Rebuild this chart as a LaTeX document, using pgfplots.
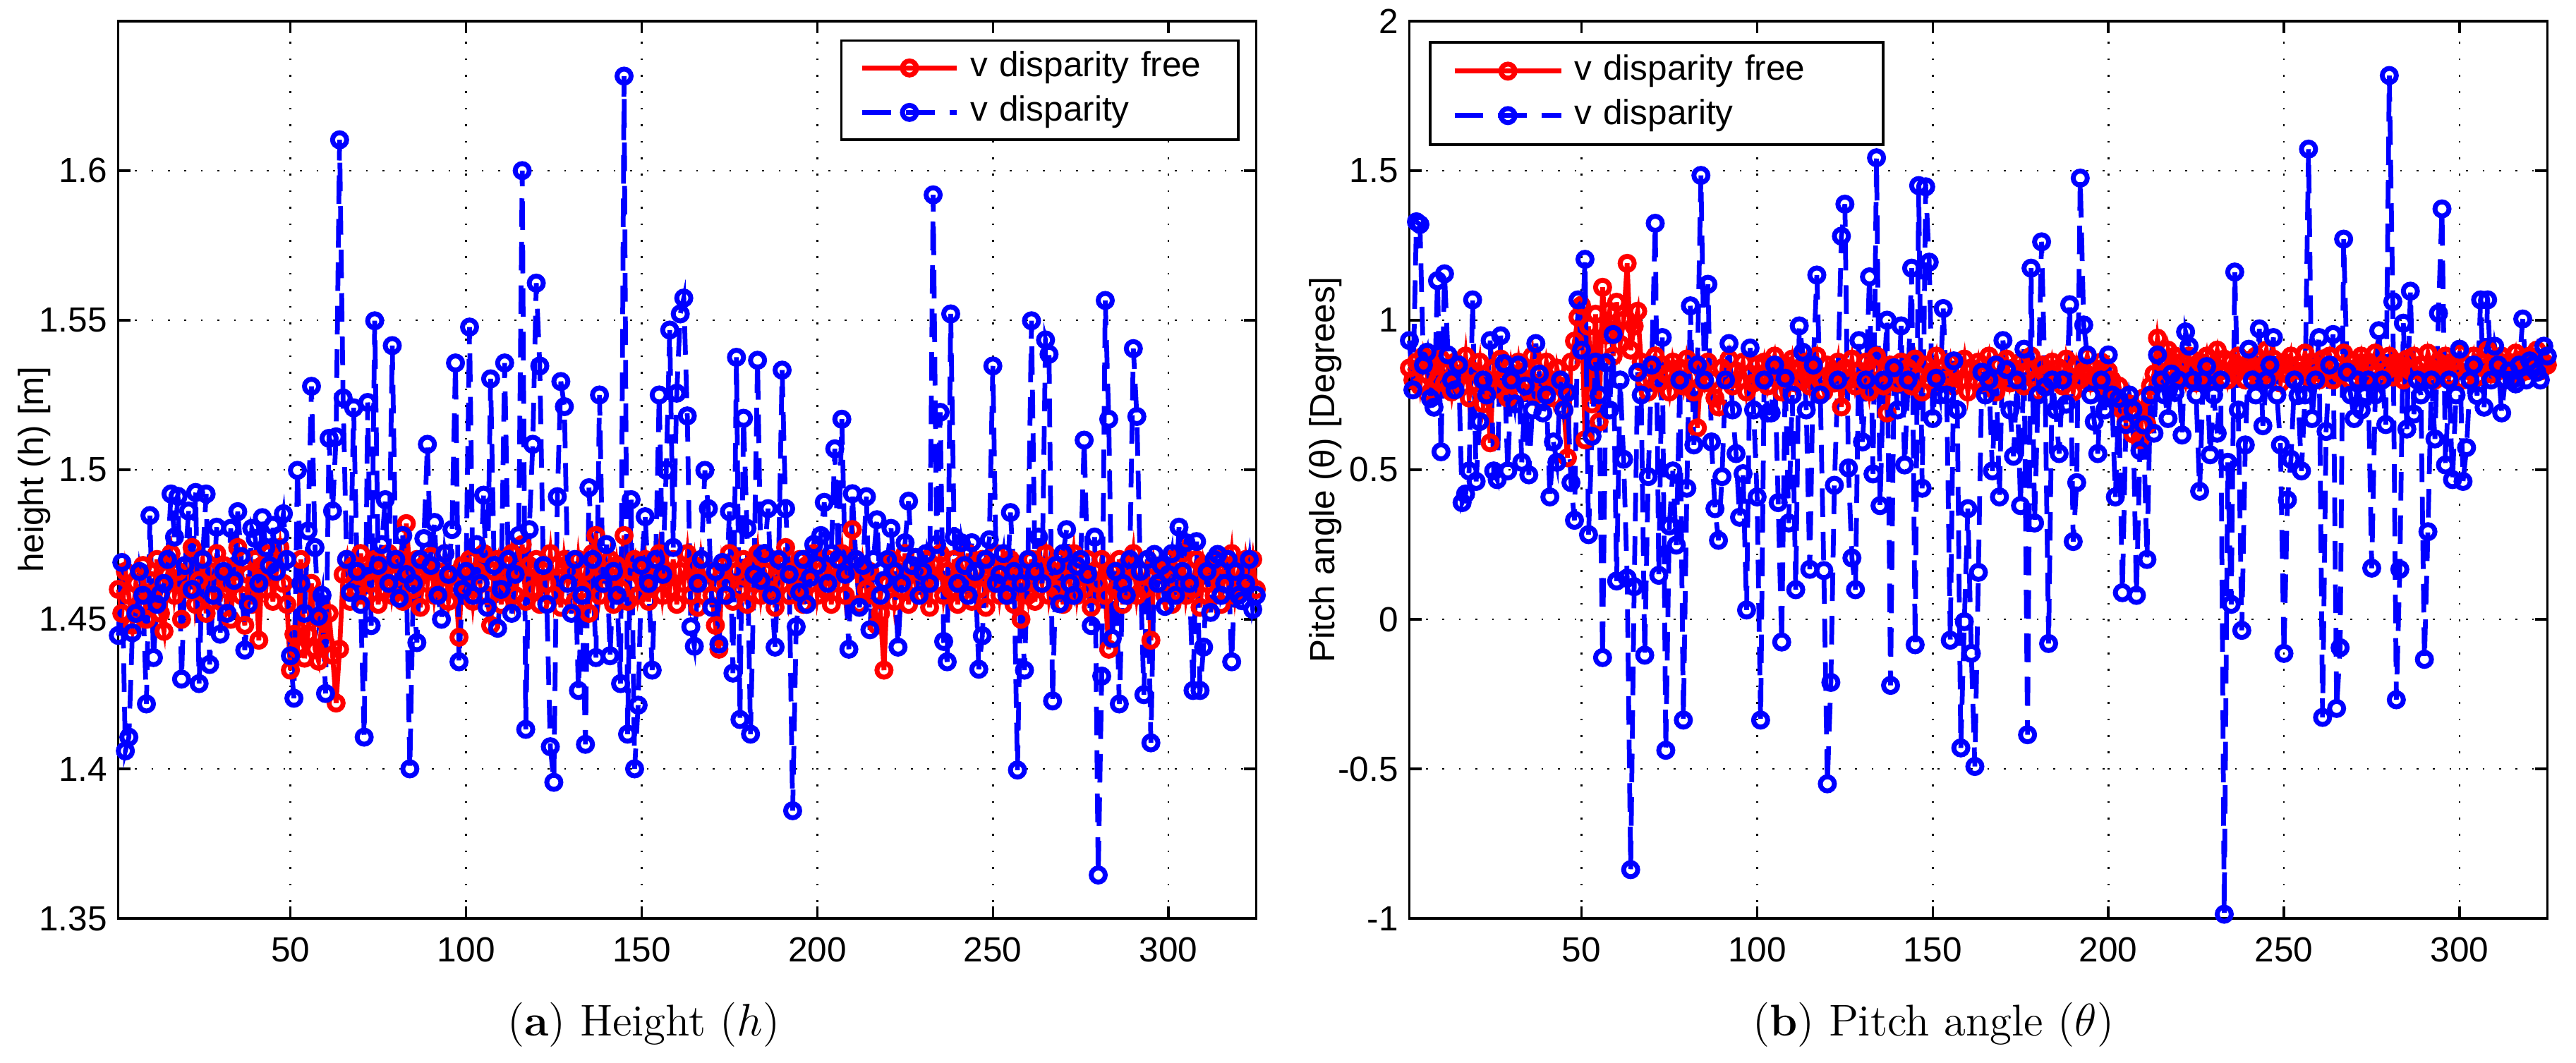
\documentclass[border=0pt]{standalone}
\usepackage{fontspec}
\usepackage{pgfplots}
\pgfplotsset{compat=1.18}
\newfontfamily\arial{Liberation Sans}
\newcommand\axfont{\arial\fontsize{11}{13}\selectfont}

\pgfplotsset{
  myax/.style={
    scale only axis, width=358.4pt, height=282.7pt, anchor=south west,
    xmin=1, xmax=325, xtick={50,100,150,200,250,300},
    grid=major,
    major grid style={black, line width=0.6pt, dash pattern=on 0.6pt off 4.6pt},
    axis line style={line width=0.75pt},
    tick style={black, line width=0.75pt},
    major tick length=3.8pt, tick align=inside,
    font=\axfont, ticklabel style={font=\axfont},
    /pgf/number format/assume math mode=true,
    /pgf/number format/precision=3,
    xticklabel style={yshift=-2.5pt},
    ylabel style={at={(axis description cs:-0.0737,0.5)}, anchor=center, font=\axfont},
    clip=false,
  },
  redser/.style={red, line width=1.5pt, mark=o, mark size=2.22pt, mark options={solid, line width=1.55pt}},
  blueser/.style={blue, line width=1.5pt, dash pattern=on 9pt off 4.7pt, mark=o, mark size=2.22pt, mark options={solid, line width=1.55pt}},
}

\begin{document}
\begin{tikzpicture}
\useasboundingbox (0,0) rectangle (811.33pt,334.67pt);

% ---------------- (a) Height ----------------
\begin{axis}[myax, at={(37.27pt,45.33pt)},
  ymin=1.35, ymax=1.65, ytick={1.35,1.4,1.45,1.5,1.55,1.6},
  ylabel={height (h) [m]},
  legend style={at={(1,1)}, anchor=north east, xshift=-5.3pt, yshift=-5.8pt,
    draw=black, line width=0.75pt, fill=white, inner xsep=0pt, inner ysep=1.6pt,
    nodes={inner sep=0pt, text height=9.8pt, text depth=4.2pt, font=\axfont, text width=84.4pt, align=left},
    cells={anchor=west}, row sep=0pt, column sep=0pt},
  legend image code/.code={\path (-5.9pt,0pt) (33.2pt,0pt); \draw[mark repeat=2,mark phase=2,#1] plot coordinates {(0pt,0pt) (14.8pt,0pt) (29.6pt,0pt)};},
]
\addplot[redser] coordinates {
(1,1.460)(2,1.452)(3,1.466)(4,1.458)(5,1.448)(6,1.462)(7,1.455)(8,1.468)(9,1.450)(10,1.463)
(11,1.457)(12,1.470)(13,1.452)(14,1.446)(15,1.465)(16,1.472)(17,1.458)(18,1.466)(19,1.450)(20,1.468)
(21,1.460)(22,1.474)(23,1.455)(24,1.463)(25,1.470)(26,1.452)(27,1.466)(28,1.458)(29,1.472)(30,1.456)
(31,1.468)(32,1.462)(33,1.450)(34,1.466)(35,1.474)(36,1.458)(37,1.448)(38,1.465)(39,1.455)(40,1.470)
(41,1.443)(42,1.468)(43,1.460)(44,1.472)(45,1.456)(46,1.466)(47,1.474)(48,1.462)(49,1.455)(50,1.433)
(51,1.445)(52,1.440)(53,1.470)(54,1.437)(55,1.445)(56,1.462)(57,1.440)(58,1.436)(59,1.450)(60,1.442)
(61,1.452)(62,1.438)(63,1.422)(64,1.440)(65,1.465)(66,1.470)(67,1.456)(68,1.468)(69,1.460)(70,1.472)
(71,1.458)(72,1.466)(73,1.462)(74,1.470)(75,1.455)(76,1.468)(77,1.460)(78,1.472)(79,1.458)(80,1.464)
(81,1.470)(82,1.456)(83,1.482)(84,1.466)(85,1.460)(86,1.470)(87,1.454)(88,1.468)(89,1.462)(90,1.471)
(91,1.458)(92,1.466)(93,1.460)(94,1.472)(95,1.456)(96,1.465)(97,1.462)(98,1.444)(99,1.468)(100,1.460)
(101,1.470)(102,1.456)(103,1.466)(104,1.462)(105,1.472)(106,1.458)(107,1.448)(108,1.466)(109,1.470)(110,1.455)
(111,1.468)(112,1.462)(113,1.472)(114,1.458)(115,1.466)(116,1.475)(117,1.456)(118,1.468)(119,1.460)(120,1.470)
(121,1.455)(122,1.466)(123,1.462)(124,1.472)(125,1.458)(126,1.468)(127,1.454)(128,1.470)(129,1.462)(130,1.466)
(131,1.456)(132,1.470)(133,1.460)(134,1.466)(135,1.452)(136,1.472)(137,1.478)(138,1.458)(139,1.466)(140,1.462)
(141,1.470)(142,1.455)(143,1.468)(144,1.460)(145,1.478)(146,1.456)(147,1.466)(148,1.470)(149,1.458)(150,1.464)
(151,1.470)(152,1.456)(153,1.468)(154,1.462)(155,1.472)(156,1.458)(157,1.466)(158,1.460)(159,1.470)(160,1.455)
(161,1.466)(162,1.462)(163,1.472)(164,1.458)(165,1.468)(166,1.454)(167,1.470)(168,1.462)(169,1.466)(170,1.458)
(171,1.448)(172,1.440)(173,1.468)(174,1.462)(175,1.472)(176,1.456)(177,1.466)(178,1.460)(179,1.470)(180,1.455)
(181,1.468)(182,1.462)(183,1.472)(184,1.458)(185,1.466)(186,1.460)(187,1.470)(188,1.454)(189,1.468)(190,1.462)
(191,1.474)(192,1.458)(193,1.466)(194,1.460)(195,1.470)(196,1.455)(197,1.468)(198,1.462)(199,1.472)(200,1.458)
(201,1.466)(202,1.460)(203,1.470)(204,1.455)(205,1.468)(206,1.462)(207,1.472)(208,1.458)(209,1.466)(210,1.480)
(211,1.470)(212,1.455)(213,1.468)(214,1.460)(215,1.466)(216,1.458)(217,1.448)(218,1.452)(219,1.433)(220,1.462)
(221,1.470)(222,1.456)(223,1.466)(224,1.460)(225,1.472)(226,1.455)(227,1.468)(228,1.462)(229,1.466)(230,1.458)
(231,1.470)(232,1.454)(233,1.468)(234,1.462)(235,1.472)(236,1.458)(237,1.466)(238,1.460)(239,1.470)(240,1.455)
(241,1.468)(242,1.462)(243,1.472)(244,1.456)(245,1.466)(246,1.460)(247,1.470)(248,1.454)(249,1.468)(250,1.462)
(251,1.472)(252,1.458)(253,1.466)(254,1.460)(255,1.470)(256,1.455)(257,1.468)(258,1.450)(259,1.466)(260,1.458)
(261,1.470)(262,1.456)(263,1.468)(264,1.462)(265,1.472)(266,1.458)(267,1.466)(268,1.460)(269,1.470)(270,1.455)
(271,1.468)(272,1.462)(273,1.472)(274,1.458)(275,1.466)(276,1.460)(277,1.470)(278,1.454)(279,1.466)(280,1.462)
(281,1.470)(282,1.458)(283,1.440)(284,1.466)(285,1.460)(286,1.470)(287,1.455)(288,1.468)(289,1.462)(290,1.472)
(291,1.458)(292,1.466)(293,1.460)(294,1.470)(295,1.443)(296,1.468)(297,1.462)(298,1.466)(299,1.458)(300,1.470)
(301,1.455)(302,1.468)(303,1.462)(304,1.472)(305,1.458)(306,1.466)(307,1.460)(308,1.470)(309,1.454)(310,1.468)
(311,1.462)(312,1.466)(313,1.458)(314,1.470)(315,1.455)(316,1.468)(317,1.462)(318,1.472)(319,1.458)(320,1.466)
(321,1.460)(322,1.470)(323,1.462)(324,1.470)(325,1.460)
};
\addlegendentry{v disparity free}
\addplot[blueser] coordinates {
(1,1.4446)(2,1.469)(3,1.406)(4,1.4106)(5,1.4455)(6,1.452)(7,1.466)(8,1.458)(9,1.4217)(10,1.4847)
(11,1.4372)(12,1.455)(13,1.4585)(14,1.462)(15,1.470)(16,1.4919)(17,1.4775)(18,1.4911)(19,1.430)(20,1.468)
(21,1.4862)(22,1.460)(23,1.4924)(24,1.4285)(25,1.470)(26,1.4919)(27,1.4349)(28,1.458)(29,1.4808)(30,1.445)
(31,1.466)(32,1.452)(33,1.4804)(34,1.463)(35,1.486)(36,1.471)(37,1.4397)(38,1.455)(39,1.4804)(40,1.477)
(41,1.462)(42,1.484)(43,1.474)(44,1.468)(45,1.4814)(46,1.466)(47,1.478)(48,1.4853)(49,1.470)(50,1.4378)
(51,1.4236)(52,1.4998)(53,1.462)(54,1.452)(55,1.4795)(56,1.5279)(57,1.474)(58,1.451)(59,1.458)(60,1.4252)
(61,1.5105)(62,1.4862)(63,1.511)(64,1.6103)(65,1.524)(66,1.470)(67,1.459)(68,1.5207)(69,1.466)(70,1.455)
(71,1.4106)(72,1.5225)(73,1.4479)(74,1.5498)(75,1.468)(76,1.475)(77,1.490)(78,1.462)(79,1.5415)(80,1.470)
(81,1.457)(82,1.478)(83,1.465)(84,1.400)(85,1.462)(86,1.4422)(87,1.470)(88,1.477)(89,1.5085)(90,1.468)
(91,1.4824)(92,1.458)(93,1.450)(94,1.472)(95,1.465)(96,1.480)(97,1.5357)(98,1.4358)(99,1.460)(100,1.466)
(101,1.5477)(102,1.458)(103,1.475)(104,1.462)(105,1.4915)(106,1.454)(107,1.5304)(108,1.468)(109,1.447)(110,1.460)
(111,1.5357)(112,1.470)(113,1.452)(114,1.465)(115,1.478)(116,1.600)(117,1.4132)(118,1.480)(119,1.5085)(120,1.5624)
(121,1.5347)(122,1.468)(123,1.455)(124,1.4074)(125,1.3955)(126,1.491)(127,1.5295)(128,1.5211)(129,1.462)(130,1.452)
(131,1.470)(132,1.4262)(133,1.458)(134,1.4082)(135,1.494)(136,1.470)(137,1.4372)(138,1.525)(139,1.462)(140,1.475)
(141,1.4378)(142,1.466)(143,1.458)(144,1.4285)(145,1.6316)(146,1.4116)(147,1.490)(148,1.400)(149,1.4213)(150,1.468)
(151,1.4843)(152,1.462)(153,1.433)(154,1.470)(155,1.525)(156,1.465)(157,1.4998)(158,1.5467)(159,1.474)(160,1.5256)
(161,1.5521)(162,1.5574)(163,1.518)(164,1.4475)(165,1.441)(166,1.462)(167,1.470)(168,1.4998)(169,1.487)(170,1.454)
(171,1.466)(172,1.4417)(173,1.469)(174,1.458)(175,1.486)(176,1.432)(177,1.5376)(178,1.4165)(179,1.5172)(180,1.4804)
(181,1.4116)(182,1.465)(183,1.5366)(184,1.463)(185,1.472)(186,1.487)(187,1.458)(188,1.4407)(189,1.470)(190,1.5333)
(191,1.487)(192,1.465)(193,1.386)(194,1.4475)(195,1.459)(196,1.470)(197,1.455)(198,1.464)(199,1.475)(200,1.468)
(201,1.478)(202,1.4891)(203,1.462)(204,1.472)(205,1.507)(206,1.470)(207,1.5169)(208,1.465)(209,1.440)(210,1.492)
(211,1.470)(212,1.454)(213,1.468)(214,1.491)(215,1.4465)(216,1.470)(217,1.4833)(218,1.458)(219,1.463)(220,1.470)
(221,1.4804)(222,1.466)(223,1.4407)(224,1.462)(225,1.4756)(226,1.4895)(227,1.468)(228,1.4707)(229,1.458)(230,1.466)
(231,1.472)(232,1.462)(233,1.5919)(234,1.475)(235,1.5192)(236,1.4426)(237,1.4358)(238,1.5521)(239,1.4775)(240,1.462)
(241,1.4756)(242,1.468)(243,1.458)(244,1.4756)(245,1.466)(246,1.4333)(247,1.4445)(248,1.470)(249,1.4766)(250,1.5347)
(251,1.462)(252,1.465)(253,1.472)(254,1.458)(255,1.4857)(256,1.466)(257,1.3996)(258,1.462)(259,1.433)(260,1.470)
(261,1.5498)(262,1.466)(263,1.4775)(264,1.462)(265,1.5434)(266,1.5386)(267,1.4227)(268,1.468)(269,1.4552)(270,1.472)
(271,1.480)(272,1.462)(273,1.458)(274,1.4678)(275,1.470)(276,1.5099)(277,1.465)(278,1.4479)(279,1.4775)(280,1.3645)
(281,1.431)(282,1.5566)(283,1.5169)(284,1.4436)(285,1.466)(286,1.4217)(287,1.462)(288,1.458)(289,1.470)(290,1.5405)
(291,1.5178)(292,1.466)(293,1.4248)(294,1.470)(295,1.4087)(296,1.4717)(297,1.462)(298,1.468)(299,1.4543)(300,1.465)
(301,1.472)(302,1.458)(303,1.4808)(304,1.466)(305,1.4756)(306,1.462)(307,1.4262)(308,1.476)(309,1.4262)(310,1.4407)
(311,1.466)(312,1.4523)(313,1.470)(314,1.4717)(315,1.458)(316,1.462)(317,1.470)(318,1.4358)(319,1.466)(320,1.458)
(321,1.4562)(322,1.462)(323,1.470)(324,1.4533)(325,1.458)
};
\addlegendentry{v disparity}
\end{axis}

% ---------------- (b) Pitch angle ----------------
\begin{axis}[myax, at={(443.9pt,45.33pt)},
  ymin=-1, ymax=2, ytick={-1,-0.5,0,0.5,1,1.5,2},
  ylabel={Pitch angle (θ) [Degrees]},
  legend style={at={(0,1)}, anchor=north west, xshift=6.2pt, yshift=-6.3pt,
    draw=black, line width=0.75pt, fill=white, inner xsep=0pt, inner ysep=2.1pt,
    nodes={inner sep=0pt, text height=9.8pt, text depth=4.2pt, font=\axfont, text width=97.3pt, align=left},
    cells={anchor=west}, row sep=0pt, column sep=0pt},
  legend image code/.code={\path (-6.9pt,0pt) (36.9pt,0pt); \draw[mark repeat=2,mark phase=2,#1] plot coordinates {(0pt,0pt) (16.8pt,0pt) (33.6pt,0pt)};},
]
\addplot[redser] coordinates {
(1,0.84)(2,0.80)(3,0.86)(4,0.78)(5,0.88)(6,0.82)(7,0.76)(8,0.85)(9,0.80)(10,0.87)
(11,0.79)(12,0.84)(13,0.76)(14,0.86)(15,0.81)(16,0.78)(17,0.88)(18,0.74)(19,0.83)(20,0.79)
(21,0.86)(22,0.72)(23,0.80)(24,0.59)(25,0.84)(26,0.77)(27,0.87)(28,0.80)(29,0.74)(30,0.85)
(31,0.79)(32,0.86)(33,0.76)(34,0.83)(35,0.80)(36,0.88)(37,0.75)(38,0.82)(39,0.78)(40,0.86)
(41,0.80)(42,0.74)(43,0.84)(44,0.78)(45,0.70)(46,0.54)(47,0.86)(48,0.93)(49,1.01)(50,1.05)
(51,0.60)(52,0.98)(53,0.72)(54,1.02)(55,0.66)(56,1.11)(57,0.95)(58,1.03)(59,0.88)(60,1.06)
(61,0.92)(62,1.00)(63,1.19)(64,0.90)(65,0.98)(66,1.03)(67,0.86)(68,0.80)(69,0.76)(70,0.84)
(71,0.88)(72,0.79)(73,0.85)(74,0.82)(75,0.76)(76,0.86)(77,0.80)(78,0.84)(79,0.78)(80,0.87)
(81,0.81)(82,0.76)(83,0.64)(84,0.84)(85,0.79)(86,0.86)(87,0.80)(88,0.74)(89,0.71)(90,0.84)
(91,0.80)(92,0.87)(93,0.78)(94,0.83)(95,0.80)(96,0.86)(97,0.76)(98,0.82)(99,0.79)(100,0.85)
(101,0.80)(102,0.86)(103,0.78)(104,0.83)(105,0.88)(106,0.80)(107,0.76)(108,0.85)(109,0.81)(110,0.87)
(111,0.79)(112,0.84)(113,0.80)(114,0.86)(115,0.78)(116,0.83)(117,0.88)(118,0.80)(119,0.76)(120,0.85)
(121,0.82)(122,0.79)(123,0.86)(124,0.71)(125,0.84)(126,0.80)(127,0.87)(128,0.78)(129,0.83)(130,0.80)
(131,0.86)(132,0.76)(133,0.84)(134,0.88)(135,0.80)(136,0.78)(137,0.69)(138,0.85)(139,0.82)(140,0.79)
(141,0.86)(142,0.80)(143,0.84)(144,0.78)(145,0.87)(146,0.81)(147,0.76)(148,0.85)(149,0.80)(150,0.83)
(151,0.88)(152,0.79)(153,0.84)(154,0.80)(155,0.86)(156,0.78)(157,0.83)(158,0.80)(159,0.87)(160,0.76)
(161,0.84)(162,0.80)(163,0.86)(164,0.79)(165,0.83)(166,0.88)(167,0.80)(168,0.76)(169,0.85)(170,0.81)
(171,0.87)(172,0.79)(173,0.84)(174,0.80)(175,0.86)(176,0.78)(177,0.83)(178,0.88)(179,0.80)(180,0.76)
(181,0.85)(182,0.82)(183,0.79)(184,0.86)(185,0.80)(186,0.84)(187,0.78)(188,0.87)(189,0.81)(190,0.76)
(191,0.85)(192,0.80)(193,0.83)(194,0.88)(195,0.79)(196,0.84)(197,0.80)(198,0.86)(199,0.78)(200,0.83)
(201,0.80)(202,0.74)(203,0.78)(204,0.70)(205,0.66)(206,0.72)(207,0.62)(208,0.68)(209,0.60)(210,0.74)
(211,0.65)(212,0.78)(213,0.82)(214,0.94)(215,0.86)(216,0.80)(217,0.90)(218,0.84)(219,0.88)(220,0.82)
(221,0.86)(222,0.80)(223,0.88)(224,0.84)(225,0.79)(226,0.86)(227,0.82)(228,0.88)(229,0.80)(230,0.85)
(231,0.90)(232,0.83)(233,0.87)(234,0.80)(235,0.86)(236,0.82)(237,0.88)(238,0.84)(239,0.80)(240,0.86)
(241,0.83)(242,0.88)(243,0.80)(244,0.85)(245,0.90)(246,0.82)(247,0.87)(248,0.84)(249,0.79)(250,0.86)
(251,0.82)(252,0.88)(253,0.80)(254,0.85)(255,0.83)(256,0.89)(257,0.81)(258,0.86)(259,0.84)(260,0.80)
(261,0.87)(262,0.83)(263,0.88)(264,0.80)(265,0.85)(266,0.82)(267,0.89)(268,0.84)(269,0.80)(270,0.86)
(271,0.83)(272,0.88)(273,0.81)(274,0.86)(275,0.84)(276,0.89)(277,0.80)(278,0.85)(279,0.83)(280,0.88)
(281,0.81)(282,0.86)(283,0.84)(284,0.80)(285,0.87)(286,0.83)(287,0.88)(288,0.80)(289,0.85)(290,0.82)
(291,0.89)(292,0.84)(293,0.80)(294,0.86)(295,0.83)(296,0.88)(297,0.81)(298,0.86)(299,0.84)(300,0.89)
(301,0.80)(302,0.85)(303,0.83)(304,0.88)(305,0.81)(306,0.86)(307,0.84)(308,0.90)(309,0.82)(310,0.87)
(311,0.83)(312,0.88)(313,0.80)(314,0.86)(315,0.84)(316,0.89)(317,0.82)(318,0.87)(319,0.83)(320,0.88)
(321,0.85)(322,0.90)(323,0.83)(324,0.86)(325,0.85)
};
\addlegendentry{v disparity free}
\addplot[blueser] coordinates {
(1,0.932)(2,0.767)(3,1.329)(4,1.320)(5,0.850)(6,0.893)(7,0.738)(8,0.709)(9,1.132)(10,0.560)
(11,1.155)(12,0.884)(13,0.800)(14,0.767)(15,0.850)(16,0.390)(17,0.419)(18,0.496)(19,1.068)(20,0.461)
(21,0.661)(22,0.800)(23,0.750)(24,0.932)(25,0.496)(26,0.467)(27,0.948)(28,0.855)(29,0.496)(30,0.800)
(31,0.720)(32,0.850)(33,0.525)(34,0.780)(35,0.483)(36,0.700)(37,0.922)(38,0.820)(39,0.690)(40,0.750)
(41,0.409)(42,0.593)(43,0.525)(44,0.800)(45,0.700)(46,0.758)(47,0.457)(48,0.331)(49,1.068)(50,0.900)
(51,1.2035)(52,0.283)(53,0.612)(54,0.860)(55,0.750)(56,-0.128)(57,0.858)(58,0.700)(59,0.952)(60,0.128)
(61,0.800)(62,0.535)(63,0.138)(64,-0.837)(65,0.109)(66,0.826)(67,0.750)(68,-0.120)(69,0.477)(70,0.850)
(71,1.324)(72,0.147)(73,0.942)(74,-0.438)(75,0.312)(76,0.496)(77,0.248)(78,0.800)(79,-0.337)(80,0.438)
(81,1.048)(82,0.583)(83,0.850)(84,1.484)(85,0.800)(86,1.120)(87,0.593)(88,0.370)(89,0.264)(90,0.477)
(91,0.800)(92,0.922)(93,0.700)(94,0.554)(95,0.341)(96,0.487)(97,0.031)(98,0.907)(99,0.700)(100,0.409)
(101,-0.337)(102,0.800)(103,0.690)(104,0.690)(105,0.850)(106,0.390)(107,-0.076)(108,0.806)(109,0.322)(110,0.750)
(111,0.099)(112,0.981)(113,0.893)(114,0.700)(115,0.167)(116,0.850)(117,1.151)(118,0.750)(119,0.163)(120,-0.550)
(121,-0.211)(122,0.448)(123,0.800)(124,1.281)(125,1.388)(126,0.506)(127,0.205)(128,0.099)(129,0.932)(130,0.593)
(131,0.800)(132,1.145)(133,0.486)(134,1.543)(135,0.380)(136,0.800)(137,1.000)(138,-0.221)(139,0.841)(140,0.700)
(141,0.981)(142,0.516)(143,0.800)(144,1.174)(145,-0.085)(146,1.450)(147,0.438)(148,1.446)(149,1.194)(150,0.671)
(151,0.806)(152,0.750)(153,1.039)(154,0.750)(155,-0.070)(156,0.864)(157,0.700)(158,-0.430)(159,-0.008)(160,0.370)
(161,-0.114)(162,-0.492)(163,0.157)(164,0.826)(165,0.750)(166,0.800)(167,0.496)(168,0.850)(169,0.409)(170,0.932)
(171,0.835)(172,0.700)(173,0.545)(174,0.800)(175,0.380)(176,0.903)(177,-0.386)(178,1.174)(179,0.322)(180,0.750)
(181,1.262)(182,0.777)(183,-0.081)(184,0.800)(185,0.700)(186,0.554)(187,0.800)(188,0.719)(189,1.052)(190,0.260)
(191,0.457)(192,1.475)(193,0.984)(194,0.884)(195,0.750)(196,0.661)(197,0.554)(198,0.800)(199,0.700)(200,0.884)
(201,0.750)(202,0.409)(203,0.738)(204,0.089)(205,0.651)(206,0.750)(207,0.700)(208,0.080)(209,0.564)(210,0.650)
(211,0.200)(212,0.750)(213,0.622)(214,0.884)(215,0.800)(216,0.750)(217,0.671)(218,0.820)(219,0.758)(220,0.800)
(221,0.616)(222,0.961)(223,0.913)(224,0.800)(225,0.750)(226,0.428)(227,0.800)(228,0.845)(229,0.550)(230,0.750)
(231,0.622)(232,0.800)(233,-0.986)(234,0.525)(235,0.050)(236,1.161)(237,0.700)(238,-0.037)(239,0.583)(240,0.903)
(241,0.800)(242,0.750)(243,0.971)(244,0.647)(245,0.800)(246,0.850)(247,0.942)(248,0.750)(249,0.583)(250,-0.114)
(251,0.399)(252,0.535)(253,0.800)(254,0.748)(255,0.496)(256,0.750)(257,1.572)(258,0.671)(259,0.800)(260,0.942)
(261,-0.328)(262,0.628)(263,0.850)(264,0.952)(265,-0.298)(266,-0.095)(267,1.271)(268,0.826)(269,0.750)(270,0.671)
(271,0.800)(272,0.700)(273,0.748)(274,0.800)(275,0.171)(276,0.750)(277,0.965)(278,0.800)(279,0.651)(280,1.818)
(281,1.062)(282,-0.269)(283,0.167)(284,0.990)(285,0.636)(286,1.097)(287,0.686)(288,0.800)(289,0.750)(290,-0.134)
(291,0.293)(292,0.800)(293,0.603)(294,1.023)(295,1.372)(296,0.516)(297,0.800)(298,0.467)(299,0.750)(300,0.903)
(301,0.461)(302,0.574)(303,0.800)(304,0.850)(305,0.748)(306,1.068)(307,0.709)(308,1.068)(309,0.800)(310,0.913)
(311,0.850)(312,0.690)(313,0.800)(314,0.830)(315,0.800)(316,0.787)(317,0.850)(318,1.004)(319,0.800)(320,0.864)
(321,0.850)(322,0.826)(323,0.800)(324,0.913)(325,0.880)
};
\addlegendentry{v disparity}
\end{axis}

% captions
\node[font=\fontsize{14}{16}\selectfont, anchor=base] at (202.7pt,8.3pt) {(\textbf{a}) Height ($h$)};
\node[font=\fontsize{14}{16}\selectfont, anchor=base] at (608.9pt,8.3pt) {(\textbf{b}) Pitch angle ($\theta$)};
\end{tikzpicture}
\end{document}
